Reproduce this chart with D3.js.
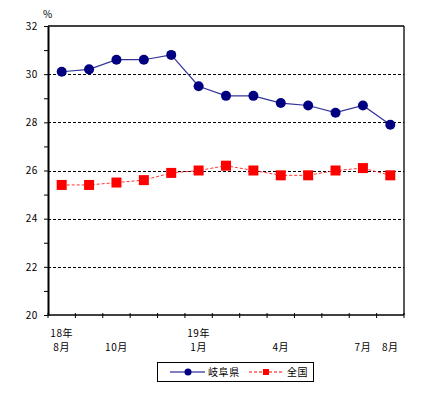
<!DOCTYPE html>
<html>
<head>
<meta charset="utf-8">
<script src="https://cdn.jsdelivr.net/npm/d3@7"></script>
<style>
  body { margin: 0; background: #fff; }
  text { font-family: "Noto Sans CJK JP", "DejaVu Sans", sans-serif; font-size: 10px; fill: #000; letter-spacing: 0.6px; }
</style>
</head>
<body>
<script>
// months 18年8月 .. 19年8月
const months = ["8", "9", "10", "11", "12", "1", "2", "3", "4", "5", "6", "7", "8"];
const monthLabels = ["8月", "", "10月", "", "", "1月", "", "", "4月", "", "", "7月", "8月"];
const yearLabels = ["18年", "", "", "", "", "19年", "", "", "", "", "", "", ""];
const gifu = [30.1, 30.2, 30.6, 30.6, 30.8, 29.5, 29.1, 29.1, 28.8, 28.7, 28.4, 28.7, 27.9];
const zenkoku = [25.4, 25.4, 25.5, 25.6, 25.9, 26.0, 26.2, 26.0, 25.8, 25.8, 26.0, 26.1, 25.8];
const yTicks = [20, 22, 24, 26, 28, 30, 32];
const seriesNames = ["岐阜県", "全国"];

const W = 430, H = 397;
const pLeft = 48, pRight = 404, pTop = 26, pBottom = 315;

const svg = d3.select("body").append("svg")
  .attr("width", W).attr("height", H);

const idx = d3.range(months.length);
const x = d3.scaleBand().domain(idx).range([pLeft, pRight]);
const y = d3.scaleLinear().domain([20, 32]).range([pBottom, pTop]);
const cx = i => x(i) + x.bandwidth() / 2;

// grid lines (dashed)
svg.append("g").selectAll("line")
  .data(yTicks.filter(d => d > 20 && d < 32))
  .enter().append("line")
  .attr("x1", pLeft).attr("x2", pRight)
  .attr("y1", d => Math.round(y(d)) + 0.5).attr("y2", d => Math.round(y(d)) + 0.5)
  .attr("stroke", "#000").attr("stroke-width", 1)
  .attr("stroke-dasharray", "3,2");

// frame top + right
svg.append("line").attr("x1", pLeft).attr("x2", pRight).attr("y1", y(32)).attr("y2", y(32))
  .attr("stroke", "#000").attr("stroke-width", 1.3);
svg.append("line").attr("x1", pRight).attr("x2", pRight).attr("y1", y(32)).attr("y2", pBottom)
  .attr("stroke", "#000").attr("stroke-width", 1.3);

// y axis
const yAxis = svg.append("g")
  .attr("transform", "translate(" + pLeft + ",0)")
  .call(d3.axisLeft(y).tickValues(d3.range(20, 33, 1)).tickSize(4).tickSizeOuter(0)
    .tickFormat(d => yTicks.includes(d) ? d : ""));
yAxis.select(".domain").attr("stroke-width", 2);
yAxis.selectAll("text").attr("x", -10).style("font-size", "10px");

// x axis
const xAxis = svg.append("g")
  .attr("transform", "translate(0," + pBottom + ")");
xAxis.append("line").attr("x1", pLeft).attr("x2", pRight).attr("y1", 0).attr("y2", 0)
  .attr("stroke", "#000").attr("stroke-width", 1.3);
xAxis.selectAll(".xt")
  .data(d3.range(months.length + 1))
  .enter().append("line")
  .attr("x1", i => pLeft + i * x.step()).attr("x2", i => pLeft + i * x.step())
  .attr("y1", -2).attr("y2", 3)
  .attr("stroke", "#000");
xAxis.selectAll(".yl")
  .data(idx.filter(i => yearLabels[i]))
  .enter().append("text")
  .attr("x", i => cx(i)).attr("y", 22)
  .attr("text-anchor", "middle")
  .text(i => yearLabels[i]);
xAxis.selectAll(".ml")
  .data(idx.filter(i => monthLabels[i]))
  .enter().append("text")
  .attr("x", i => cx(i)).attr("y", 36)
  .attr("text-anchor", "middle")
  .text(i => monthLabels[i]);

svg.append("text").attr("x", 43).attr("y", 18).text("%");

// 全国 line
const line = d3.line().x((d, i) => cx(i)).y(d => y(d));
svg.append("path").datum(zenkoku)
  .attr("d", line).attr("fill", "none")
  .attr("stroke", "#ff3333").attr("stroke-width", 1)
  .attr("stroke-dasharray", "3,2");
svg.selectAll(".sq").data(zenkoku).enter().append("rect")
  .attr("x", (d, i) => cx(i) - 5).attr("y", d => y(d) - 5)
  .attr("width", 10).attr("height", 10)
  .attr("fill", "#ff0000");

// 岐阜県 line
svg.append("path").datum(gifu)
  .attr("d", line).attr("fill", "none")
  .attr("stroke", "#333399").attr("stroke-width", 1.2);
svg.selectAll(".dot").data(gifu).enter().append("circle")
  .attr("cx", (d, i) => cx(i)).attr("cy", d => y(d))
  .attr("r", 5).attr("fill", "#000080");

// legend
const lg = svg.append("g");
lg.append("rect").attr("x", 157.5).attr("y", 362.5).attr("width", 156).attr("height", 19)
  .attr("fill", "#fff").attr("stroke", "#000");
lg.append("line").attr("x1", 170).attr("x2", 205).attr("y1", 372).attr("y2", 372)
  .attr("stroke", "#000080").attr("stroke-width", 1.2);
lg.append("circle").attr("cx", 188).attr("cy", 372).attr("r", 3.5).attr("fill", "#000080");
lg.append("text").attr("x", 208).attr("y", 376).text(seriesNames[0]);
lg.append("line").attr("x1", 249).attr("x2", 284).attr("y1", 372).attr("y2", 372)
  .attr("stroke", "#ff0000").attr("stroke-dasharray", "3,2");
lg.append("rect").attr("x", 263).attr("y", 369).attr("width", 6).attr("height", 6).attr("fill", "#ff0000");
lg.append("text").attr("x", 287).attr("y", 376).text(seriesNames[1]);
</script>
</body>
</html>
